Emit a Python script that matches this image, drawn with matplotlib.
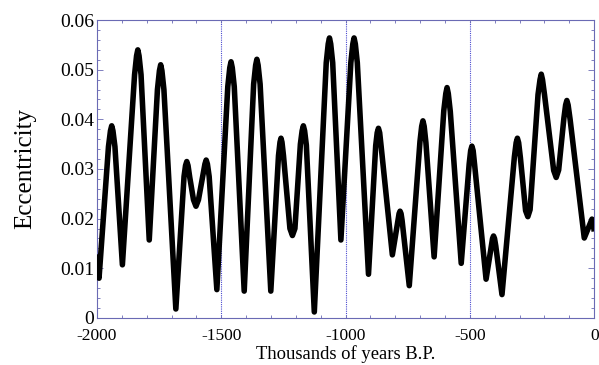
import matplotlib
matplotlib.use("Agg")
import matplotlib.pyplot as plt
from matplotlib.ticker import MultipleLocator

# Eccentricity record (thousands of years B.P.)
years = [-2000, -1992,
         -1954, -1946, -1941, -1936, -1928, -1898,
         -1849, -1841, -1836, -1831, -1823, -1790,
         -1757, -1749, -1744, -1739, -1731, -1683,
         -1650, -1644, -1639, -1634, -1627, -1612, -1602, -1592,
         -1574, -1566, -1561, -1556, -1549, -1518,
         -1474, -1466, -1461, -1456, -1448, -1408,
         -1370, -1362, -1357, -1352, -1344, -1301,
         -1270, -1264, -1260, -1256, -1250, -1224, -1214, -1204,
         -1182, -1175, -1170, -1165, -1158, -1126,
         -1078, -1070, -1065, -1060, -1052, -1019,
         -979, -971, -966, -961, -953, -908,
         -879, -873, -868, -863, -857, -812,
         -789, -785, -781, -777, -773, -744,
         -701, -694, -689, -684, -677, -644,
         -605, -597, -592, -587, -579, -535,
         -503, -497, -492, -487, -481, -435,
         -414, -409, -405, -401, -396, -371,
         -321, -314, -309, -304, -297, -276, -267, -258,
         -226, -218, -213, -208, -200, -163, -153, -143,
         -122, -115, -110, -105, -97, -40,
         -15, -9, -3, 0]
ecc = [0.0128, 0.0080,
       0.0345, 0.0377, 0.0387, 0.0377, 0.0345, 0.0107,
       0.0490, 0.0528, 0.0540, 0.0528, 0.0490, 0.0157,
       0.0460, 0.0498, 0.0510, 0.0498, 0.0460, 0.0018,
       0.0285, 0.0307, 0.0315, 0.0307, 0.0283, 0.0238, 0.0225, 0.0238,
       0.0288, 0.0310, 0.0318, 0.0310, 0.0285, 0.0057,
       0.0466, 0.0504, 0.0516, 0.0504, 0.0466, 0.0054,
       0.0471, 0.0509, 0.0521, 0.0509, 0.0471, 0.0054,
       0.0327, 0.0354, 0.0362, 0.0354, 0.0327, 0.0180, 0.0166, 0.0180,
       0.0350, 0.0377, 0.0387, 0.0377, 0.0348, 0.0012,
       0.0514, 0.0552, 0.0564, 0.0552, 0.0514, 0.0157,
       0.0514, 0.0552, 0.0564, 0.0552, 0.0514, 0.0088,
       0.0347, 0.0373, 0.0382, 0.0373, 0.0345, 0.0127,
       0.0198, 0.0210, 0.0215, 0.0210, 0.0197, 0.0065,
       0.0355, 0.0386, 0.0397, 0.0386, 0.0353, 0.0123,
       0.0418, 0.0452, 0.0464, 0.0452, 0.0416, 0.0110,
       0.0310, 0.0337, 0.0346, 0.0337, 0.0308, 0.0078,
       0.0145, 0.0160, 0.0165, 0.0160, 0.0145, 0.0047,
       0.0325, 0.0353, 0.0362, 0.0353, 0.0323, 0.0216, 0.0204, 0.0218,
       0.0450, 0.0480, 0.0491, 0.0480, 0.0450, 0.0297, 0.0283, 0.0298,
       0.0402, 0.0429, 0.0438, 0.0429, 0.0400, 0.0161,
       0.0192, 0.0199, 0.0190, 0.0174]
vlines = [-1500, -1000, -500]
xticks = [-2000, -1500, -1000, -500, 0]
yticks = [0, 0.01, 0.02, 0.03, 0.04, 0.05, 0.06]
ytick_labels = ["0", "0.01", "0.02", "0.03", "0.04", "0.05", "0.06"]

plt.rcParams['font.family'] = ['Liberation Serif', 'DejaVu Serif']
frame = '#6a6ab4'

fig = plt.figure(figsize=(5.99, 3.65), dpi=100)
ax = fig.add_axes([0.162, 0.129, 0.830, 0.816])

for v in vlines:
    ax.axvline(v, color='#4b4bd0', lw=0.8, ls=(0, (1, 1)), zorder=1)

ax.plot(years, ecc, color='black', lw=4.0, solid_joinstyle='round',
        solid_capstyle='butt', zorder=3)

ax.set_xlim(-2000, 0)
ax.set_ylim(0, 0.06)
ax.set_xticks(xticks)
ax.set_xticklabels([str(t) for t in xticks])
ax.set_yticks(yticks)
ax.set_yticklabels(ytick_labels)
ax.xaxis.set_minor_locator(MultipleLocator(100))
ax.yaxis.set_minor_locator(MultipleLocator(0.002))

for s in ax.spines.values():
    s.set_color(frame)
    s.set_linewidth(0.8)
ax.tick_params(which='both', direction='in', top=True, right=True, color=frame,
               width=0.6, labelcolor='black')
ax.tick_params(which='major', length=4)
ax.tick_params(which='minor', length=2.5)
ax.tick_params(axis='x', which='major', length=2.5, pad=7, labelsize=12.5)
ax.tick_params(axis='y', pad=2, labelsize=14)

ax.set_xlabel('Thousands of years B.P.', fontsize=13.4, labelpad=1)
ax.set_ylabel('Eccentricity', fontsize=18, labelpad=17)

fig.savefig('out.png', dpi=100)
